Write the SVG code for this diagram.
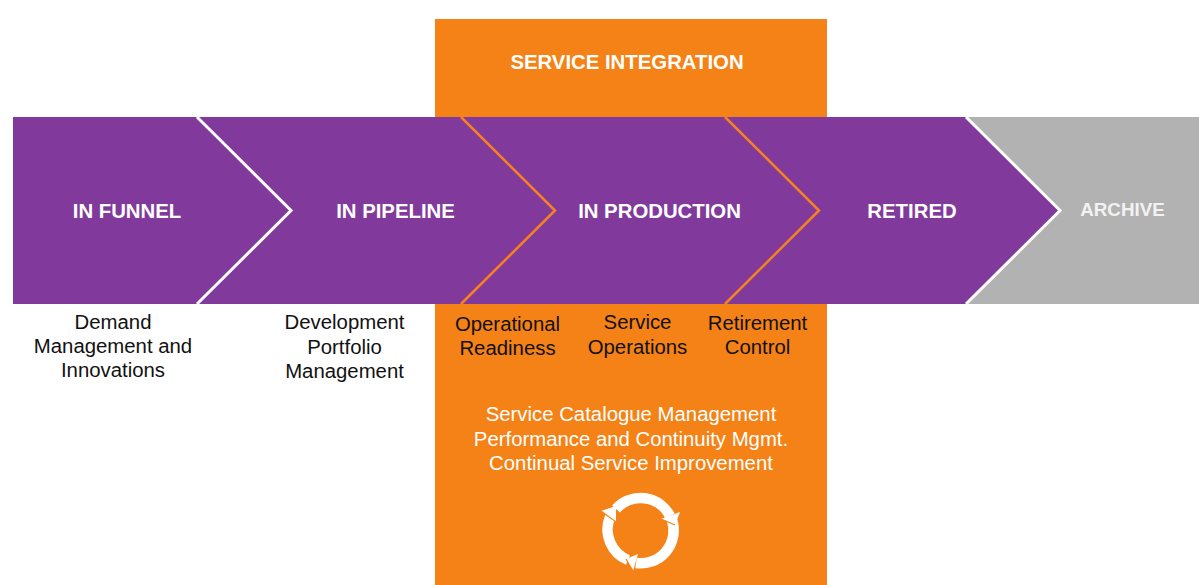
<svg xmlns="http://www.w3.org/2000/svg" width="1199" height="585" viewBox="0 0 1199 585">
<style>
text{font-family:"Liberation Sans",Arial,sans-serif;text-anchor:middle}
.h{font-size:20.350px;font-weight:bold;fill:#fff}
.b{font-size:20.350px;fill:#111}
.w{font-size:20.350px;fill:#fff}
.p{fill:#813a9c}
.ow{fill:none;stroke:#fff;stroke-width:3}
.oo{fill:none;stroke:#f5821f;stroke-width:2.500}
.ring{fill:none;stroke:#fff;stroke-width:10.500}
.head{fill:#fff}
.notch{fill:none;stroke:#f58216;stroke-width:1.200}
</style>
<rect width="1199" height="585" fill="#fff"/>
<g id="service-integration">
<rect x="435" y="19" width="392" height="566" fill="#f58216"/>
<text class="h" x="627" y="69">SERVICE INTEGRATION</text>
</g>
<g id="archive">
<polygon points="966,117 1199,117 1199,304 966,304 1060,210.500" fill="#b2b2b2"/>
<text class="h" x="1122.500" y="216" style="font-size:18.800px;fill:#f2f2f2">ARCHIVE</text>
</g>
<g id="process-band">
<polygon class="p" points="13,117 966,117 1060,210.500 966,304 13,304"/>
</g>
<g id="connectors">
<polyline class="ow" points="197,117 291,210.500 197,304"/>
<polyline class="oo" points="461,117 555,210.500 461,304"/>
<polyline class="oo" points="725,117 819,210.500 725,304"/>
<polyline class="ow" points="966,117 1060,210.500 966,304"/>
</g>
<g id="in-funnel">
<text class="h" x="127" y="218">IN FUNNEL</text>
<text class="b" x="113" y="329">Demand</text>
<text class="b" x="113" y="353">Management and</text>
<text class="b" x="113" y="377">Innovations</text>
</g>
<g id="in-pipeline">
<text class="h" x="395.500" y="218">IN PIPELINE</text>
<text class="b" x="344.500" y="329">Development</text>
<text class="b" x="344.500" y="354">Portfolio</text>
<text class="b" x="344.500" y="378">Management</text>
</g>
<g id="in-production">
<text class="h" x="659.500" y="218">IN PRODUCTION</text>
<text class="b" x="507.500" y="331">Operational</text>
<text class="b" x="507.500" y="355">Readiness</text>
<text class="b" x="637.500" y="329">Service</text>
<text class="b" x="637.500" y="354">Operations</text>
<text class="b" x="757.500" y="330">Retirement</text>
<text class="b" x="757.500" y="354">Control</text>
</g>
<g id="retired">
<text class="h" x="912" y="218">RETIRED</text>
</g>
<g id="service-list">
<text class="w" x="631" y="421">Service Catalogue Management</text>
<text class="w" x="631" y="446">Performance and Continuity Mgmt.</text>
<text class="w" x="631" y="470">Continual Service Improvement</text>
</g>
<g id="cycle-icon">
<path class="ring" d="M616 509A33 33 0 0 1 670 516"/>
<path class="ring" d="M672 520A33 33 0 0 1 636 563"/>
<path class="ring" d="M628 560A33 33 0 0 1 610 517"/>
<polygon class="head" points="680,512 675,525 661,519"/>
<polyline class="notch" points="661,519 675,525"/>
<polygon class="head" points="626,559 633,571 638,554"/>
<polyline class="notch" points="626,559 633,571"/>
<polygon class="head" points="616,506 601,511 616,522"/>
<polyline class="notch" points="601,511 616,522"/>
</g>
</svg>
